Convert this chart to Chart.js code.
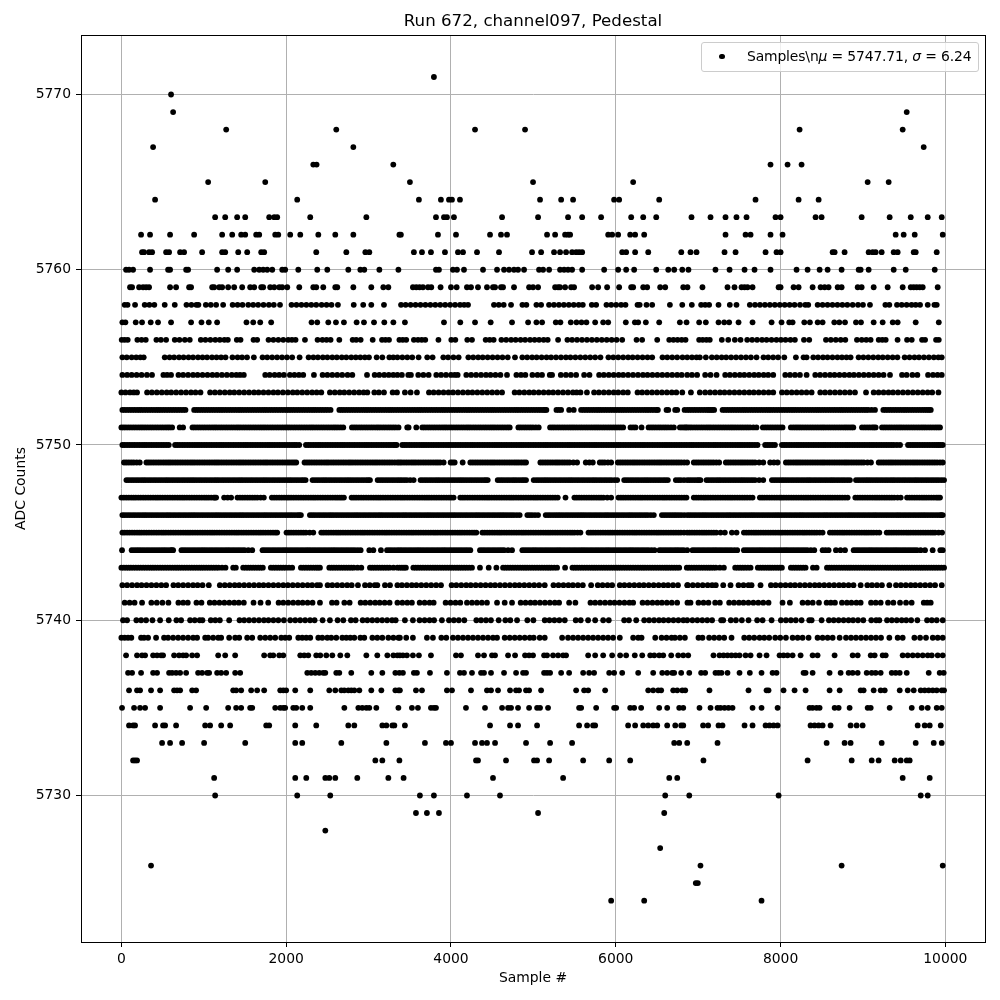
<!DOCTYPE html>
<html>
<head>
<meta charset="utf-8">
<title>Run 672, channel097, Pedestal</title>
<script src="https://cdn.jsdelivr.net/npm/chart.js@4"></script>
<style>
  html, body { margin: 0; padding: 0; background: #fff; }
  #wrap { position: relative; width: 1000px; height: 1000px; }
  #legend {
    position: absolute; left: 701px; top: 42px; width: 276px; height: 28px;
    background: rgba(255,255,255,0.8); border: 1px solid #ccc; border-radius: 3px;
    font: 13.9px "DejaVu Sans", sans-serif; color: #000; line-height: 27px; white-space: nowrap;
  }
  #legend .dot { position: absolute; left: 17px; top: 10.5px; width: 5.6px; height: 5.6px; border-radius: 50%; background: #000; }
  #legend .txt { position: absolute; left: 45px; top: 0; letter-spacing: -0.14px; }
</style>
</head>
<body>
<div id="wrap">
  <canvas id="chart" width="1000" height="1000"></canvas>
  <div id="legend"><span class="dot"></span><span class="txt">Samples\n<i>μ</i> = 5747.71, <i>σ</i> = 6.24</span></div>
</div>
<script>
// x positions (sample #), one list per ADC level
const adc5771 = [3793];
const adc5770 = [603];
const adc5769 = [628,9531];
const adc5768 = [1272,2608,4292,4899,8231,9482];
const adc5767 = [385,2815,9737];
const adc5766 = [2329,2369,3300,7878,8085,8255];
const adc5765 = [1053,1746,3502,4996,6211,9057,9312];
const adc5764 = [409,2134,3611,3878,3976,4012,4109,5081,5337,5482,5980,6041,6527,7696,8219,8462];
const adc5763 = [1138,1260,1405,1503,1794,1855,1891,2292,2973,3818,3915,3951,4036,4620,5057,5421,5592,5822,6187,6333,6491,6919,7150,7332,7465,7587,7939,8000,8425,8498,8984,9324,9580,9786,9956];
const adc5762 = [239,348,591,883,1223,1345,1454,1503,1636,1673,1867,1904,2049,2171,2390,2596,2815,3374,3392,3842,4061,4474,4607,4680,5166,5264,5385,5421,5446,5908,5956,6029,6175,6235,6345,7332,7575,7636,7878,8024,9397,9494,9628,9968];
const adc5761 = [251,275,336,373,543,579,713,761,980,1223,1260,1418,1527,1697,1733,2365,2730,2961,3009,3550,3648,3757,3927,4085,4146,4316,4583,4984,5094,5251,5324,5397,5470,5519,5555,5592,6078,6126,6235,6394,6795,6907,6980,7320,7454,7818,7951,8000,8632,8656,8777,9069,9118,9154,9227,9373,9421,9616,9640,9895];
const adc5760 = [57,93,142,348,567,591,786,810,1162,1296,1405,1612,1673,1721,1770,1831,1952,1988,2147,2377,2499,2754,2900,2948,3131,3362,3818,3854,4024,4073,4158,4389,4559,4644,4705,4765,4814,4887,5069,5118,5191,5324,5373,5421,5470,5592,5859,6029,6126,6223,6491,6637,6709,6807,6882,7210,7381,7563,7684,7878,8194,8328,8474,8571,8741,8948,8972,9069,9373,9519,9871];
const adc5759 = [105,130,215,263,300,336,591,664,822,846,1102,1126,1187,1223,1296,1369,1466,1563,1612,1697,1721,1806,1855,1916,1952,2013,2159,2329,2365,2450,2596,2620,2815,3033,3179,3240,3538,3579,3619,3660,3721,3761,3874,4000,4069,4194,4243,4328,4437,4510,4535,4607,4632,4765,4948,4996,5057,5264,5300,5324,5385,5458,5494,5713,5786,5895,6041,6187,6211,6333,6381,6539,6600,6819,6870,7052,7356,7441,7526,7563,7599,7660,7976,8000,8158,8219,8389,8486,8535,8583,8693,8741,8936,8984,9130,9300,9482,9580,9616,9652,9689,9725,9907];
const adc5758 = [40,75,166,283,340,400,526,648,790,850,910,935,1025,1085,1150,1235,1350,1410,1470,1540,1600,1660,1725,1790,1850,1925,2065,2125,2185,2245,2305,2365,2430,2490,2550,2628,2820,2935,3033,3187,3394,3450,3510,3570,3630,3690,3750,3810,3870,3930,3990,4050,4110,4160,4207,4522,4580,4640,4729,4867,4915,5037,5094,5190,5250,5310,5370,5430,5490,5550,5600,5709,5762,5887,5945,6005,6065,6118,6264,6290,6373,6442,6657,6807,6923,7036,7085,7133,7247,7384,7465,7627,7690,7750,7810,7870,7930,7990,8050,8110,8170,8236,8300,8336,8450,8510,8570,8630,8690,8750,8810,8875,8940,9000,9085,9272,9320,9413,9470,9530,9590,9640,9693,9786,9867,9895];
const adc5757 = [12,49,174,251,356,445,603,846,972,1061,1162,1518,1600,1685,1818,2308,2377,2511,2604,2701,2855,2944,3066,3191,3301,3441,3915,4113,4292,4482,4741,4936,5037,5106,5272,5328,5454,5523,5584,5644,5750,5847,5908,6122,6232,6272,6365,6527,6778,6859,7012,7093,7247,7316,7376,7490,7660,7891,8012,8105,8146,8288,8356,8450,8510,8652,8713,8782,8915,8976,9130,9239,9361,9421,9640,9920];
const adc5756 = [4,40,77,194,245,296,425,480,543,648,705,770,830,964,1020,1080,1140,1195,1250,1292,1401,1446,1604,1648,1786,1845,1905,1965,2025,2070,2114,2228,2381,2440,2490,2539,2645,2807,2850,2904,3050,3163,3205,3248,3374,3415,3457,3550,3600,3645,3688,3848,4004,4053,4198,4255,4421,4470,4518,4612,4670,4730,4785,4845,4900,4960,5015,5070,5125,5174,5300,5413,5470,5530,5590,5650,5710,5770,5830,5890,5950,6010,6078,6252,6320,6503,6649,6700,6750,6800,6847,7012,7055,7100,7141,7287,7365,7445,7514,7595,7655,7715,7775,7830,7890,7950,8005,8060,8120,8174,8284,8348,8551,8610,8670,8730,8786,8927,8985,9040,9093,9191,9235,9276,9420,9535,9592,9717,9754,9887,9920];
const adc5755 = [12,65,125,180,230,271,526,585,640,700,755,815,870,930,985,1040,1100,1155,1210,1264,1348,1410,1465,1525,1608,1713,1770,1830,1890,1950,2010,2073,2163,2272,2330,2385,2445,2500,2560,2615,2675,2730,2790,2845,2900,2955,3005,3098,3167,3252,3300,3350,3410,3470,3530,3607,3712,3777,3907,3965,4030,4093,4211,4270,4330,4385,4445,4505,4565,4625,4689,4777,4866,4925,4985,5040,5100,5160,5215,5275,5335,5395,5450,5510,5570,5630,5690,5750,5814,5911,5970,6030,6090,6150,6205,6265,6325,6385,6442,6567,6625,6685,6745,6810,6867,6925,6980,7020,7093,7166,7225,7285,7340,7400,7460,7520,7580,7640,7708,7793,7850,7910,7970,8045,8186,8279,8316,8397,8455,8515,8570,8630,8690,8745,8800,8850,8947,9005,9065,9125,9185,9240,9300,9360,9418,9506,9565,9625,9680,9740,9800,9860,9915,9956];
const adc5754 = [12,70,125,185,245,310,372,510,555,603,693,750,810,870,925,985,1045,1105,1160,1220,1280,1340,1395,1440,1486,1746,1800,1860,1915,1972,2045,2100,2155,2207,2337,2442,2500,2560,2620,2680,2745,2803,2981,3074,3130,3190,3245,3300,3350,3404,3482,3514,3603,3665,3729,3822,3880,3940,4000,4045,4081,4186,4245,4305,4365,4425,4480,4540,4600,4680,4794,4850,4903,4988,5050,5105,5199,5227,5333,5395,5455,5519,5616,5681,5798,5855,5915,5975,6035,6090,6150,6210,6270,6330,6385,6445,6505,6565,6625,6685,6745,6800,6867,6925,6987,7085,7150,7223,7328,7385,7445,7505,7560,7620,7680,7735,7795,7850,7911,8057,8115,8175,8235,8316,8421,8480,8540,8600,8655,8715,8775,8835,8890,8950,9010,9070,9130,9190,9250,9328,9474,9530,9600,9660,9790,9850,9905,9956];
const adc5753 = [0,50,105,150,190,312,370,430,490,550,605,665,725,785,845,900,960,1077,1135,1195,1255,1315,1370,1430,1490,1550,1610,1665,1725,1785,1845,1900,1960,2020,2080,2135,2195,2255,2315,2370,2426,2531,2590,2650,2705,2765,2825,2885,2940,2985,3070,3125,3187,3292,3345,3441,3510,3587,3733,3790,3850,3910,3970,4025,4085,4145,4205,4260,4320,4380,4440,4500,4560,4620,4773,4830,4890,4950,5005,5065,5125,5185,5240,5300,5360,5420,5480,5525,5572,5650,5737,5795,5855,5915,5975,6030,6090,6146,6264,6320,6380,6440,6500,6560,6620,6680,6735,6807,6912,7020,7085,7145,7205,7265,7320,7380,7440,7500,7560,7620,7675,7735,7795,7855,7911,8017,8075,8135,8195,8255,8315,8377,8482,8540,8600,8660,8720,8780,8840,8903,9037,9130,9190,9250,9310,9365,9425,9485,9545,9605,9665,9725,9785,9840,9916];
const adc5752 = [12,70,130,190,245,305,365,425,480,540,600,660,720,778,883,940,1000,1060,1120,1180,1235,1295,1355,1415,1470,1530,1590,1650,1710,1765,1825,1885,1945,2005,2060,2120,2180,2240,2300,2355,2415,2475,2539,2645,2700,2760,2820,2880,2940,2995,3055,3115,3175,3235,3290,3350,3410,3470,3530,3590,3645,3705,3765,3825,3885,3940,4000,4060,4120,4180,4235,4295,4355,4415,4475,4530,4590,4650,4710,4770,4825,4885,4945,5005,5065,5120,5158,5280,5337,5434,5490,5579,5640,5700,5760,5815,5875,5935,5995,6055,6110,6170,6230,6290,6350,6405,6465,6511,6616,6637,6721,6746,6835,6867,6925,6985,7045,7105,7150,7194,7296,7355,7415,7475,7535,7590,7650,7710,7770,7830,7885,7945,8005,8065,8125,8180,8240,8300,8360,8420,8475,8535,8595,8655,8715,8770,8830,8890,8950,9010,9065,9146,9247,9305,9365,9425,9485,9540,9600,9660,9720,9775,9823];
const adc5751 = [0,55,115,175,235,290,350,410,470,530,585,616,708,749,863,920,980,1040,1100,1155,1215,1275,1335,1395,1450,1510,1570,1630,1690,1745,1805,1865,1925,1985,2040,2100,2160,2220,2280,2335,2395,2455,2515,2575,2630,2693,2798,2855,2915,2975,3035,3095,3150,3210,3270,3330,3364,3469,3486,3579,3652,3710,3770,3830,3890,3945,4005,4065,4125,4185,4240,4300,4360,4420,4480,4535,4595,4655,4713,4818,4875,4935,4995,5065,5203,5260,5320,5380,5440,5495,5555,5615,5675,5735,5790,5850,5910,5970,6030,6090,6179,6240,6313,6398,6455,6515,6575,6635,6705,6778,6830,6867,6920,6980,7040,7100,7155,7215,7275,7335,7395,7450,7510,7570,7630,7708,7785,7845,7905,7965,8024,8125,8185,8240,8300,8360,8420,8480,8535,8595,8655,8715,8775,8830,8883,8988,9050,9110,9154,9231,9290,9350,9410,9465,9525,9585,9645,9705,9760,9820,9880,9935];
const adc5750 = [12,70,130,190,250,305,365,425,485,545,575,652,710,770,830,890,945,1005,1065,1125,1185,1240,1300,1360,1420,1480,1535,1595,1655,1715,1775,1830,1890,1950,2010,2070,2125,2158,2240,2300,2360,2415,2475,2535,2595,2655,2710,2770,2830,2890,2950,3005,3065,3125,3185,3245,3300,3340,3409,3465,3525,3585,3645,3700,3760,3820,3880,3940,3995,4055,4115,4175,4235,4290,4350,4410,4470,4530,4585,4645,4705,4765,4825,4880,4940,5000,5060,5120,5175,5235,5295,5355,5415,5470,5530,5590,5650,5710,5765,5825,5885,5945,6005,6060,6120,6180,6240,6300,6355,6415,6475,6535,6595,6650,6710,6770,6830,6890,6945,7005,7065,7125,7185,7240,7300,7360,7420,7480,7535,7595,7655,7720,7813,7870,7932,8017,8075,8135,8195,8250,8310,8370,8430,8490,8545,8605,8665,8725,8785,8840,8900,8960,9020,9080,9135,9195,9255,9315,9375,9450,9547,9605,9660,9720,9780,9840,9895,9940,9968];
const adc5749 = [32,90,150,223,304,360,420,480,540,595,655,715,775,835,890,950,1010,1070,1130,1185,1245,1305,1365,1425,1480,1540,1600,1660,1720,1775,1835,1895,1955,2015,2070,2122,2223,2280,2340,2400,2460,2515,2575,2635,2695,2755,2810,2870,2930,2990,3050,3105,3165,3225,3285,3350,3400,3460,3520,3575,3635,3695,3755,3815,3870,3911,3996,4045,4142,4235,4295,4355,4415,4475,4530,4590,4650,4710,4770,4825,4885,4911,5085,5145,5205,5265,5320,5380,5440,5531,5636,5721,5806,5865,5944,6025,6085,6145,6205,6260,6320,6380,6440,6500,6555,6615,6675,6735,6795,6866,6947,7005,7065,7125,7185,7255,7336,7395,7455,7515,7570,7630,7690,7790,7874,7964,8065,8125,8185,8240,8300,8360,8420,8480,8535,8595,8655,8715,8775,8830,8890,8950,9010,9097,9191,9250,9310,9365,9425,9485,9545,9605,9660,9720,9780,9840,9900,9968];
const adc5748 = [61,120,180,240,295,355,415,475,535,590,650,710,770,830,885,945,1005,1065,1125,1180,1240,1300,1360,1420,1475,1535,1595,1655,1715,1770,1830,1890,1950,2010,2065,2125,2185,2236,2320,2380,2440,2495,2555,2615,2675,2735,2790,2850,2910,2970,3017,3110,3170,3230,3290,3350,3405,3465,3547,3631,3690,3750,3810,3865,3925,3985,4045,4105,4160,4220,4280,4340,4400,4446,4567,4625,4685,4745,4800,4860,4911,5004,5065,5125,5180,5240,5300,5360,5420,5475,5535,5595,5655,5715,5770,5830,5890,5950,6017,6102,6160,6220,6280,6340,6395,6455,6515,6575,6632,6729,6790,6867,6925,6985,7028,7101,7160,7220,7275,7335,7395,7455,7515,7570,7630,7690,7790,7895,7955,8015,8070,8130,8190,8250,8310,8365,8425,8485,8545,8605,8660,8720,8780,8842,8915,8975,9035,9090,9150,9210,9270,9330,9385,9445,9505,9565,9625,9680,9740,9800,9860,9920,9984];
const adc5747 = [0,60,120,175,235,295,355,415,470,530,590,650,710,765,825,885,945,1005,1060,1120,1150,1247,1332,1409,1470,1530,1590,1650,1729,1826,1885,1945,2005,2060,2120,2180,2240,2300,2355,2415,2475,2535,2595,2650,2701,2794,2850,2910,2970,3030,3090,3145,3205,3265,3325,3385,3440,3500,3560,3620,3680,3735,3795,3855,3915,3975,4032,4113,4170,4230,4290,4350,4410,4465,4525,4585,4645,4705,4760,4820,4880,4940,5000,5055,5115,5175,5235,5296,5390,5498,5555,5615,5675,5735,5795,5850,5944,6033,6090,6150,6210,6270,6325,6385,6445,6505,6565,6620,6680,6740,6800,6858,6947,7005,7065,7120,7180,7240,7300,7360,7415,7475,7535,7595,7660,7749,7805,7865,7925,7985,8040,8100,8160,8220,8280,8335,8395,8455,8515,8575,8630,8690,8750,8814,8907,8965,9025,9085,9145,9200,9260,9320,9380,9458,9535,9595,9655,9715,9770,9830,9890,9935];
const adc5746 = [12,70,130,190,250,305,365,425,485,545,600,660,720,780,840,895,955,1015,1075,1135,1190,1250,1310,1370,1430,1485,1545,1605,1665,1725,1780,1840,1900,1960,2020,2075,2135,2179,2288,2345,2405,2465,2525,2580,2640,2700,2760,2820,2875,2935,2995,3055,3115,3170,3230,3290,3350,3410,3465,3525,3585,3645,3705,3760,3820,3880,3940,4000,4055,4115,4175,4235,4295,4350,4410,4470,4530,4590,4645,4705,4765,4834,4927,4985,5057,5150,5210,5270,5325,5385,5445,5505,5565,5620,5680,5740,5800,5860,5915,5975,6035,6095,6155,6210,6270,6330,6390,6462,6560,6620,6680,6735,6795,6867,6925,6985,7045,7100,7160,7220,7280,7340,7395,7455,7515,7575,7635,7690,7750,7810,7870,7930,7985,8045,8105,8165,8225,8280,8340,8400,8460,8520,8575,8635,8695,8755,8815,8870,8930,8990,9050,9110,9165,9225,9285,9345,9405,9460,9520,9580,9640,9700,9755,9815,9875,9935,9968];
const adc5745 = [12,70,130,190,245,305,365,425,485,540,600,660,720,780,835,895,955,1015,1075,1130,1190,1250,1310,1370,1425,1485,1545,1605,1665,1720,1780,1840,1891,2004,2060,2120,2180,2240,2329,2426,2485,2545,2605,2660,2720,2780,2840,2900,2955,3015,3075,3135,3195,3250,3310,3370,3430,3490,3545,3605,3665,3725,3785,3840,3900,3960,4020,4080,4135,4195,4255,4308,4381,4440,4500,4560,4615,4675,4735,4795,4855,4910,4970,5030,5090,5150,5205,5265,5325,5385,5445,5500,5571,5669,5725,5785,5845,5905,5960,6020,6080,6140,6200,6255,6315,6375,6435,6495,6550,6610,6670,6730,6790,6867,6925,6985,7045,7100,7160,7220,7324,7409,7466,7555,7615,7675,7730,7790,7850,7910,7970,8025,8085,8145,8205,8265,8320,8380,8440,8510,8599,8660,8720,8775,8835,8895,8955,9015,9070,9130,9199,9288,9345,9405,9465,9525,9580,9640,9700,9760,9820,9875,9960];
const adc5744 = [8,125,185,240,300,360,420,480,535,595,628,729,785,845,905,965,1020,1080,1140,1200,1260,1315,1375,1435,1495,1588,1713,1770,1830,1890,1950,2005,2065,2125,2185,2245,2300,2360,2420,2480,2540,2595,2655,2715,2775,2835,2904,3009,3058,3150,3224,3285,3350,3405,3465,3525,3585,3640,3700,3760,3820,3880,3935,3995,4055,4115,4175,4235,4352,4410,4470,4530,4590,4645,4741,4866,4925,4985,5040,5100,5160,5220,5280,5335,5395,5455,5515,5575,5630,5690,5750,5810,5870,5925,5985,6045,6105,6165,6220,6280,6340,6400,6470,6531,6590,6650,6710,6765,6825,6867,6931,6990,7050,7110,7170,7225,7285,7345,7405,7474,7555,7615,7675,7735,7790,7850,7910,7970,8030,8085,8145,8205,8265,8325,8409,8510,8583,8672,8782,8887,8945,9005,9065,9120,9180,9240,9300,9360,9415,9475,9535,9595,9655,9753,9846,9939,9968];
const adc5743 = [0,60,115,175,235,295,355,410,470,530,590,650,705,765,825,885,945,1000,1060,1120,1180,1264,1357,1389,1478,1540,1600,1660,1717,1814,1875,1935,1995,2073,2179,2240,2300,2360,2410,2523,2580,2640,2700,2760,2820,2912,3017,3075,3135,3195,3255,3350,3405,3453,3543,3600,3660,3720,3780,3835,3895,3955,4015,4075,4130,4190,4255,4352,4458,4551,4632,4690,4750,4810,4870,4925,4985,5045,5105,5165,5220,5288,5385,5474,5530,5590,5650,5710,5765,5825,5885,5945,6005,6060,6120,6180,6240,6300,6355,6415,6475,6535,6595,6650,6710,6770,6862,6920,6980,7040,7100,7155,7215,7312,7449,7510,7570,7636,7724,7785,7845,7900,7960,8016,8125,8185,8245,8304,8393,8438,8563,8620,8680,8740,8800,8855,8915,8975,9035,9095,9150,9210,9270,9330,9390,9445,9505,9565,9625,9685,9740,9800,9860,9920,9984];
const adc5742 = [12,70,130,190,245,305,365,425,485,543,632,690,750,810,870,925,985,1061,1195,1255,1315,1375,1430,1490,1550,1610,1670,1725,1785,1845,1905,1965,2020,2080,2140,2200,2260,2315,2375,2410,2503,2560,2620,2680,2740,2795,2871,2957,3015,3075,3106,3199,3260,3350,3405,3465,3525,3580,3640,3700,3760,3820,3879,4008,4065,4125,4185,4240,4300,4360,4420,4480,4535,4595,4655,4715,4775,4830,4890,4950,5010,5070,5138,5244,5305,5365,5425,5480,5540,5600,5701,5782,5840,5900,5956,6049,6105,6165,6225,6285,6340,6400,6460,6520,6580,6635,6695,6755,6867,6874,6935,6995,7055,7115,7170,7214,7304,7393,7490,7550,7610,7648,7757,7883,7940,8000,8060,8120,8175,8235,8295,8355,8415,8470,8530,8590,8650,8710,8765,8825,8885,8972,9053,9110,9170,9230,9320,9401,9460,9520,9580,9635,9695,9755,9815,9875,9956];
const adc5741 = [40,100,160,251,364,430,498,571,692,750,806,911,972,1073,1130,1190,1250,1310,1370,1425,1486,1604,1689,1782,1908,1965,2025,2085,2145,2200,2260,2320,2410,2556,2612,2706,2770,2904,2960,3020,3080,3135,3195,3255,3350,3410,3470,3526,3620,3680,3740,3790,3935,3995,4055,4113,4194,4255,4315,4375,4437,4559,4652,4741,4846,4905,4965,5020,5080,5140,5200,5260,5312,5434,5510,5693,5750,5810,5870,5930,5985,6045,6105,6165,6211,6325,6385,6445,6505,6560,6620,6680,6745,6870,6907,7004,7065,7125,7206,7263,7376,7435,7495,7550,7610,7670,7730,7790,7854,8024,8113,8267,8330,8390,8466,8559,8610,8660,8745,8805,8860,8920,8972,9098,9155,9215,9304,9369,9450,9523,9591,9738,9780,9822];
const adc5740 = [20,69,182,240,300,377,470,575,668,725,834,890,950,984,1085,1140,1195,1308,1434,1490,1550,1610,1670,1730,1785,1845,1905,1972,2049,2110,2170,2230,2290,2345,2442,2531,2624,2693,2786,2843,2928,2985,3045,3105,3165,3225,3285,3329,3441,3538,3619,3680,3740,3795,3890,3976,4035,4095,4162,4308,4365,4425,4485,4579,4660,4720,4802,4927,5000,5138,5195,5255,5315,5381,5514,5575,5664,5750,5847,5915,6102,6160,6248,6345,6405,6465,6525,6580,6640,6700,6760,6820,6867,6930,6990,7050,7110,7169,7279,7304,7396,7458,7530,7611,7716,7782,7891,8004,8065,8125,8185,8255,8348,8377,8498,8587,8645,8705,8765,8825,8880,8940,9004,9101,9160,9199,9292,9350,9410,9470,9525,9585,9660,9778,9835,9895,9968];
const adc5739 = [0,40,81,121,239,275,324,421,518,567,628,689,749,810,871,919,1017,1053,1114,1175,1211,1308,1381,1430,1527,1588,1685,1746,1806,1867,1940,1988,2037,2147,2195,2244,2292,2390,2438,2499,2547,2608,2681,2730,2778,2827,2900,2948,3046,3106,3167,3240,3301,3362,3380,3457,3538,3708,3781,3883,3943,4024,4085,4146,4207,4267,4328,4389,4450,4510,4559,4652,4713,4774,4834,4895,4956,5004,5077,5138,5349,5421,5482,5543,5604,5665,5725,5786,5847,5907,5968,6049,6211,6272,6313,6479,6556,6616,6677,6718,6778,6839,7004,7052,7133,7194,7255,7316,7405,7559,7619,7680,7745,7802,7862,7935,7996,8065,8146,8207,8267,8340,8449,8510,8571,8632,8717,8794,8855,8915,8976,9037,9098,9158,9219,9320,9421,9482,9624,9693,9765,9847,9907,9968];
const adc5738 = [57,190,251,288,385,433,482,506,640,700,749,786,859,919,1175,1260,1381,1733,1806,1843,1916,1965,2171,2219,2268,2365,2414,2487,2560,2657,2742,2973,3106,3228,3301,3349,3380,3417,3465,3538,3611,3757,4061,4121,4328,4401,4498,4535,4693,4778,4899,4948,4996,5130,5166,5239,5300,5361,5397,5665,5750,5847,5956,6053,6126,6231,6321,6418,6467,6527,6576,6673,6758,6819,6879,7186,7259,7308,7356,7405,7454,7502,7575,7636,7745,7830,7988,8036,8085,8146,8243,8389,8449,8656,8875,8936,9094,9142,9239,9276,9482,9543,9604,9664,9725,9786,9835,9907,9968];
const adc5737 = [81,130,239,385,433,579,616,664,713,786,931,980,1041,1065,1162,1211,1272,1381,1442,2256,2304,2353,2402,2450,2475,2608,2645,2790,3033,3167,3325,3374,3417,3550,3587,3745,3951,4109,4158,4255,4365,4401,4486,4644,4790,4875,4911,5130,5166,5203,5337,5434,5604,5677,5737,5920,5980,6078,6272,6454,6564,6624,6685,6709,6794,6892,7036,7085,7210,7247,7283,7356,7502,7627,7769,7903,7951,8279,8304,8389,8595,8729,8826,8875,8936,9045,9106,9154,9215,9349,9397,9446,9531,9798,9931,9980];
const adc5736 = [93,190,227,360,470,640,676,713,859,907,1357,1393,1454,1575,1648,1733,1928,1965,2000,2110,2292,2523,2596,2669,2705,2754,2790,2827,2888,3033,3155,3325,3362,3380,3575,3648,3951,4012,4243,4437,4486,4571,4717,4790,4826,4911,4948,5094,5519,5616,5665,5871,6394,6454,6515,6551,6697,6746,6807,6843,7137,7611,7830,7854,8036,8170,8304,8595,8717,8972,9008,9130,9215,9264,9446,9543,9616,9701,9749,9798,9847,9895,9956,9984];
const adc5735 = [8,154,227,288,470,834,1029,1296,1393,1454,1563,1588,1867,1928,1965,1988,2086,2122,2195,2292,2706,2876,2924,2973,3009,3094,3362,3526,3599,3757,3793,3818,4182,4413,4620,4693,4729,4814,4948,5045,5081,5178,5555,5580,5762,5980,6005,6175,6223,6308,6527,6624,6770,6819,7016,7150,7235,7271,7320,7368,7417,7660,7769,7964,8352,8389,8437,8474,8656,8705,8838,9057,9094,9324,9592,9713,9786,9895,9956];
const adc5734 = [93,142,166,409,506,531,664,1017,1077,1211,1320,1758,1794,2110,2365,2754,2827,3167,3216,3289,3313,3441,4474,4717,4814,5045,5555,5652,5725,5750,6150,6235,6333,6394,6454,6503,6624,6722,6794,6819,7060,7121,7247,7295,7563,7660,7818,7866,7915,7964,8364,8413,8462,8510,8607,8850,8923,8996,9664,9749,9810,9944];
const adc5733 = [494,591,737,1004,1503,2110,2195,2669,3216,3684,3939,4000,4292,4377,4437,4535,4911,5203,5470,6709,6770,6867,7235,8559,8777,8850,9227,9640,9859,9956];
const adc5732 = [142,166,190,3082,3167,3374,4304,4328,4668,5008,5045,5191,5604,5920,6175,7064,8328,8863,9106,9190,9385,9458,9531,9567];
const adc5731 = [1126,2110,2244,2475,2523,2596,2863,3240,3425,4510,5361,6649,6746,9482,9810];
const adc5730 = [1138,2134,2535,3623,3793,4194,4595,6600,6892,7976,9701,9786];
const adc5729 = [3575,3708,3854,5057,6588];
const adc5728 = [2475];
const adc5727 = [6539];
const adc5726 = [360,7028,8741,9968];
const adc5725 = [6971,6996];
const adc5724 = [5944,6345,7769];

// further samples inside the nearly solid runs of the busiest levels
const more5752 = [40,100,160,218,275,335,395,452,510,570,630,690,750,912,970,1030,1090,1150,1208,1265,1325,1385,1442,1500,1560,1620,1680,1738,1795,1855,1915,1975,2032,2090,2150,2210,2270,2328,2385,2445,2505,2672,2730,2790,2850,2910,2968,3025,3085,3145,3205,3262,3320,3380,3440,3500,3560,3618,3675,3735,3795,3855,3912,3970,4030,4090,4150,4208,4265,4325,4385,4445,4502,4560,4620,4680,4740,4798,4855,4915,4975,5035,5092,5140,5308,5610,5670,5730,5788,5845,5905,5965,6025,6082,6140,6200,6260,6320,6378,6435,6495,6895,6955,7015,7075,7128,7172,7325,7385,7445,7505,7562,7620,7680,7740,7800,7858,7915,7975,8035,8095,8152,8210,8270,8330,8390,8448,8505,8565,8625,8685,8742,8800,8860,8920,8980,9038,9105,9275,9335,9395,9455,9512,9570,9630,9690,9748,9800];
const more5751 = [28,85,145,205,262,320,380,440,500,558,890,950,1010,1070,1128,1185,1245,1305,1365,1422,1480,1540,1600,1660,1718,1775,1835,1895,1955,2012,2070,2130,2190,2250,2308,2365,2425,2485,2545,2602,2662,2826,2885,2945,3005,3065,3122,3180,3240,3300,3680,3740,3800,3860,3918,3975,4035,4095,4155,4212,4270,4330,4390,4450,4508,4565,4625,4685,4846,4905,4965,5030,5232,5290,5350,5410,5468,5525,5585,5645,5705,5762,5820,5880,5940,6000,6060,6210,6427,6485,6545,6605,6670,6804,6850,6893,6950,7010,7070,7128,7185,7245,7305,7365,7422,7480,7540,7600,7670,7815,7875,7935,7995,8155,8212,8270,8330,8390,8450,8508,8565,8625,8685,8745,8802,8858,9020,9080,9132,9260,9320,9380,9438,9495,9555,9615,9675,9732,9790,9850,9908];
const more5750 = [40,100,160,220,278,335,395,455,515,680,740,800,860,918,975,1035,1095,1155,1212,1270,1330,1390,1450,1508,1565,1625,1685,1745,1802,1860,1920,1980,2040,2098,2270,2330,2388,2445,2505,2565,2625,2682,2740,2800,2860,2920,2978,3035,3095,3155,3215,3272,3320,3437,3495,3555,3615,3672,3730,3790,3850,3910,3968,4025,4085,4145,4205,4262,4320,4380,4440,4500,4558,4615,4675,4735,4795,4852,4910,4970,5030,5090,5148,5205,5265,5325,5385,5442,5500,5560,5620,5680,5738,5795,5855,5915,5975,6032,6090,6150,6210,6270,6328,6385,6445,6505,6565,6622,6680,6740,6800,6860,6918,6975,7035,7095,7155,7212,7270,7330,7390,7450,7508,7565,7625,7688,7842,7900,8046,8105,8165,8222,8280,8340,8400,8460,8518,8575,8635,8695,8755,8812,8870,8930,8990,9050,9108,9165,9225,9285,9345,9412,9576,9632,9690,9750,9810,9868,9918];
const more5749 = [60,120,186,332,390,450,510,568,625,685,745,805,862,920,980,1040,1100,1158,1215,1275,1335,1395,1452,1510,1570,1630,1690,1748,1805,1865,1925,1985,2042,2096,2252,2310,2370,2430,2488,2545,2605,2665,2725,2782,2840,2900,2960,3020,3078,3135,3195,3255,3318,3375,3430,3490,3548,3605,3665,3725,3785,3842,4020,4265,4325,4385,4445,4502,4560,4620,4680,4740,4798,4855,5115,5175,5235,5292,5350,5410,5485,5680,5835,5905,6055,6115,6175,6232,6290,6350,6410,6470,6528,6585,6645,6705,6765,6830,6976,7035,7095,7155,7220,7365,7425,7485,7542,7600,7660,7740,7919,8095,8155,8212,8270,8330,8390,8450,8508,8565,8625,8685,8745,8802,8860,8920,8980,9055,9220,9280,9338,9395,9455,9515,9575,9632,9690,9750,9810,9870,9935];
const more5748 = [90,150,210,268,325,385,445,505,562,620,680,740,800,858,915,975,1035,1095,1152,1210,1270,1330,1390,1448,1505,1565,1625,1685,1742,1800,1860,1920,1980,2038,2095,2155,2210,2350,2410,2468,2525,2585,2645,2705,2762,2820,2880,2940,2995,3140,3200,3260,3320,3378,3435,3505,3660,3720,3780,3838,3895,3955,4015,4075,4132,4190,4250,4310,4370,4423,4596,4655,4715,4772,4830,4885,5035,5095,5152,5210,5270,5330,5390,5448,5505,5565,5625,5685,5742,5800,5860,5920,5985,6131,6190,6250,6310,6368,6425,6485,6545,6603,6760,6828,6896,6955,7007,7130,7190,7248,7305,7365,7425,7485,7542,7600,7660,7740,7925,7985,8042,8100,8160,8220,8280,8338,8395,8455,8515,8575,8632,8690,8750,8811,8945,9005,9062,9120,9180,9240,9300,9358,9415,9475,9535,9595,9652,9710,9770,9830,9890,9952];
const more5747 = [30,90,148,205,265,325,385,442,500,560,620,680,738,795,855,915,975,1032,1090,1135,1290,1440,1500,1560,1620,1690,1855,1915,1975,2032,2090,2150,2210,2270,2328,2385,2445,2505,2565,2622,2675,2822,2880,2940,3000,3060,3118,3175,3235,3295,3355,3412,3470,3530,3590,3650,3708,3765,3825,3885,3945,4003,4142,4200,4260,4320,4380,4438,4495,4555,4615,4675,4732,4790,4850,4910,4970,5028,5085,5145,5205,5265,5526,5585,5645,5705,5765,5822,5897,6062,6120,6180,6240,6298,6355,6415,6475,6535,6592,6650,6710,6770,6830,6976,7035,7092,7150,7210,7270,7330,7388,7445,7505,7565,7628,7777,7835,7895,7955,8012,8070,8130,8190,8250,8308,8365,8425,8485,8545,8602,8660,8720,8782,8936,8995,9055,9115,9172,9230,9290,9350,9420,9565,9625,9685,9742,9800,9860,9912];
const more5746 = [40,100,160,220,278,335,395,455,515,572,630,690,750,810,868,925,985,1045,1105,1162,1220,1280,1340,1400,1458,1515,1575,1635,1695,1752,1810,1870,1930,1990,2048,2105,2158,2316,2375,2435,2495,2552,2610,2670,2730,2790,2848,2905,2965,3025,3085,3142,3200,3260,3320,3380,3438,3495,3555,3615,3675,3732,3790,3850,3910,3970,4028,4085,4145,4205,4265,4322,4380,4440,4500,4560,4618,4675,4735,4800,4956,5020,5180,5240,5298,5355,5415,5475,5535,5592,5650,5710,5770,5830,5888,5945,6005,6065,6125,6182,6240,6300,6360,6426,6590,6650,6708,6765,6830,6896,6955,7015,7072,7130,7190,7250,7310,7368,7425,7485,7545,7605,7662,7720,7780,7840,7900,7958,8015,8075,8135,8195,8252,8310,8370,8430,8490,8548,8605,8665,8725,8785,8842,8900,8960,9020,9080,9138,9195,9255,9315,9375,9432,9490,9550,9610,9670,9728,9785,9845,9905,9950];
const more5745 = [40,100,160,218,275,335,395,455,512,570,630,690,750,808,865,925,985,1045,1102,1160,1220,1280,1340,1398,1455,1515,1575,1635,1692,1750,1810,1868,2032,2090,2150,2210,2285,2455,2515,2575,2632,2690,2750,2810,2870,2928,2985,3045,3105,3165,3222,3280,3340,3400,3460,3518,3575,3635,3695,3755,3812,3870,3930,3990,4050,4108,4165,4225,4282,4410,4470,4530,4588,4645,4705,4765,4825,4882,4940,5000,5060,5120,5178,5235,5295,5355,5415,5472,5536,5697,5755,5815,5875,5932,5990,6050,6110,6170,6228,6285,6345,6405,6465,6522,6580,6640,6700,6760,6828,6896,6955,7015,7072,7130,7190,7272,7585,7645,7702,7760,7820,7880,7940,7998,8055,8115,8175,8235,8292,8350,8410,8475,8630,8690,8748,8805,8865,8925,8985,9042,9100,9165,9316,9375,9435,9495,9552,9610,9670,9730,9790,9848,9918];
const more5744 = [155,212,270,330,390,450,508,565,612,757,815,875,935,992,1050,1110,1170,1230,1288,1345,1405,1465,1540,1741,1800,1860,1920,1978,2035,2095,2155,2215,2272,2330,2390,2450,2510,2568,2625,2685,2745,2805,2870,3255,3318,3378,3435,3495,3555,3612,3670,3730,3790,3850,3908,3965,4025,4085,4145,4205,4381,4440,4500,4560,4618,4693,4896,4955,5012,5070,5130,5190,5250,5308,5365,5425,5485,5545,5602,5660,5720,5780,5840,5898,5955,6015,6075,6135,6192,6250,6310,6370,6435,6560,6620,6680,6738,6795,6960,7020,7080,7140,7198,7255,7315,7375,7440,7585,7645,7705,7762,7820,7880,7940,8000,8058,8115,8175,8235,8295,8367,8546,8727,8916,8975,9035,9092,9150,9210,9270,9330,9388,9445,9505,9565,9625,9700];
const more5743 = [30,88,145,205,265,325,382,440,500,560,620,678,735,795,855,915,972,1030,1090,1150,1222,1510,1570,1630,1688,1845,1905,1965,2034,2210,2270,2330,2385,2552,2610,2670,2730,2790,2866,3046,3105,3165,3225,3302,3378,3430,3572,3630,3690,3750,3808,3865,3925,3985,4045,4102,4160,4222,4661,4720,4780,4840,4898,4955,5015,5075,5135,5192,5254,5502,5560,5620,5680,5738,5795,5855,5915,5975,6032,6090,6150,6210,6270,6328,6385,6445,6505,6565,6622,6680,6740,6890,6950,7010,7070,7128,7185,7263,7480,7540,7603,7755,7815,7872,7930,7988,8155,8215,8275,8592,8650,8710,8770,8828,8885,8945,9005,9065,9122,9180,9240,9300,9360,9418,9475,9535,9595,9655,9712,9770,9830,9890,9952];

const levels = [5771,5770,5769,5768,5767,5766,5765,5764,5763,5762,5761,5760,5759,5758,5757,5756,5755,5754,5753,5752,5751,5750,5749,5748,5747,5746,5745,5744,5743,5742,5741,5740,5739,5738,5737,5736,5735,5734,5733,5732,5731,5730,5729,5728,5727,5726,5725,5724];
const samples = [adc5771,adc5770,adc5769,adc5768,adc5767,adc5766,adc5765,adc5764,adc5763,adc5762,adc5761,adc5760,adc5759,adc5758,adc5757,adc5756,adc5755,adc5754,adc5753,adc5752.concat(more5752),adc5751.concat(more5751),adc5750.concat(more5750),adc5749.concat(more5749),adc5748.concat(more5748),adc5747.concat(more5747),adc5746.concat(more5746),adc5745.concat(more5745),adc5744.concat(more5744),adc5743.concat(more5743),adc5742,adc5741,adc5740,adc5739,adc5738,adc5737,adc5736,adc5735,adc5734,adc5733,adc5732,adc5731,adc5730,adc5729,adc5728,adc5727,adc5726,adc5725,adc5724];
const xTicks = [0,2000,4000,6000,8000,10000];
const yTicks = [5730,5740,5750,5760,5770];

const points = [];
levels.forEach((lvl, i) => samples[i].forEach(s => points.push({x: s, y: lvl})));

const font = {family: '"DejaVu Sans", sans-serif', size: 13.9};

// top and right spines, chart.js only draws the left and bottom ones
const frame = {
  id: 'frame',
  afterDraw(c) {
    const a = c.chartArea, ctx = c.ctx;
    ctx.save();
    ctx.strokeStyle = '#000';
    ctx.lineWidth = 1;
    ctx.strokeRect(Math.round(a.left) + 0.5, Math.round(a.top) + 0.5, Math.round(a.right - a.left), Math.round(a.bottom - a.top));
    ctx.restore();
  }
};

new Chart(document.getElementById('chart'), {
  type: 'scatter',
  plugins: [frame],
  data: {
    datasets: [{
      label: 'Samples\\nμ = 5747.71, σ = 6.24',
      data: points,
      backgroundColor: '#000',
      borderWidth: 0,
      pointRadius: 2.9,
      pointStyle: 'circle'
    }]
  },
  options: {
    responsive: false,
    animation: false,
    layout: {padding: {top: 0, right: 15, bottom: 0, left: 0}},
    plugins: {
      legend: {display: false},
      tooltip: {enabled: false},
      title: {
        display: true,
        text: 'Run 672, channel097, Pedestal',
        fullSize: false,
        color: '#000',
        font: {family: font.family, size: 16.67, weight: 'normal'},
        padding: {top: 12, bottom: 3}
      }
    },
    scales: {
      x: {
        type: 'linear',
        min: -490,
        max: 10481,
        afterBuildTicks(s) { s.ticks = xTicks.map(v => ({value: v})); },
        afterFit(s) { s.height = 58; },
        title: {display: true, text: 'Sample #', color: '#000', font: font, padding: {top: 0, bottom: 13}},
        ticks: {color: '#000', font: font, maxRotation: 0, padding: 4, callback: v => String(v)},
        grid: {color: '#b0b0b0', lineWidth: 1, tickColor: '#000', tickLength: 5},
        border: {display: true, color: '#000'}
      },
      y: {
        type: 'linear',
        min: 5721.64,
        max: 5773.395,
        afterBuildTicks(s) { s.ticks = yTicks.map(v => ({value: v})); },
        afterFit(s) { s.width = 81; },
        title: {display: true, text: 'ADC Counts', color: '#000', font: font, padding: {top: 13, bottom: 0}},
        ticks: {color: '#000', font: font, padding: 5, callback: v => String(v)},
        grid: {color: '#b0b0b0', lineWidth: 1, tickColor: '#000', tickLength: 5},
        border: {display: true, color: '#000'}
      }
    }
  }
});
</script>
</body>
</html>
